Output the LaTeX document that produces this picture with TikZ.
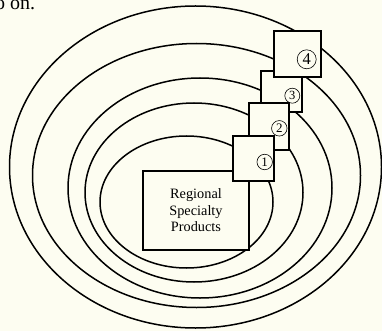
\documentclass[tikz,border=0pt]{standalone}
\usepackage{fontspec}
\setmainfont{Liberation Serif}
\usepackage{tikz}

\definecolor{paper}{RGB}{253,253,241}

\begin{document}
\begin{tikzpicture}[x=1pt,y=-1pt,
  ring/.style={line width=1.5pt},
  numbox/.style={draw,line width=1.8pt,fill=paper,rectangle,inner sep=0pt},
  numtxt/.style 2 args={circle,draw,line width=0.6pt,inner sep=0pt,minimum size=#1pt,
    font=\fontsize{#2}{#1}\selectfont},
  prodbox/.style={draw,line width=1.8pt,fill=paper,rectangle,align=center,
    minimum width=106pt,minimum height=79pt,font=\fontsize{14.3}{16.8}\selectfont}]
\useasboundingbox[fill=paper] (0,0) rectangle (382,331);
\node[anchor=base west,inner sep=0pt,font=\fontsize{20}{24}\selectfont] (txt) at (-5,10) {o on.};
% rings, outer to inner
\foreach \cx/\cy/\rx/\ry in %
{195.5/167/186/161, 196.5/175.5/164/132, 200/188/132/110, 194/192.5/109/89.5, 186.5/202/86.5/66} {
   \draw[ring] (\cx,\cy) ellipse [x radius=\rx, y radius=\ry];
}
\node[prodbox] (rsp) at (196,210.3) {Regional\\Specialty\\Products};
% numbered boxes
\foreach \n/\x/\y/\w/\h/\lx/\ly/\s/\f in %
{3/281.3/91.3/41.3/41.3/292.3/95.7/15/12.5, 4/297.3/54/46.7/46.7/306.7/59.3/19/16.5,
 2/268.7/126.7/40/46.7/279.3/128.3/15.5/13, 1/253.7/158.3/40.7/44.7/264.7/162/15.5/13} {
   \node[numbox,minimum width=\w pt,minimum height=\h pt] (b\n) at (\x,\y) {};
   \node[numtxt={\s}{\f}] (n\n) at (\lx,\ly) {\n};
}
\end{tikzpicture}
\end{document}
